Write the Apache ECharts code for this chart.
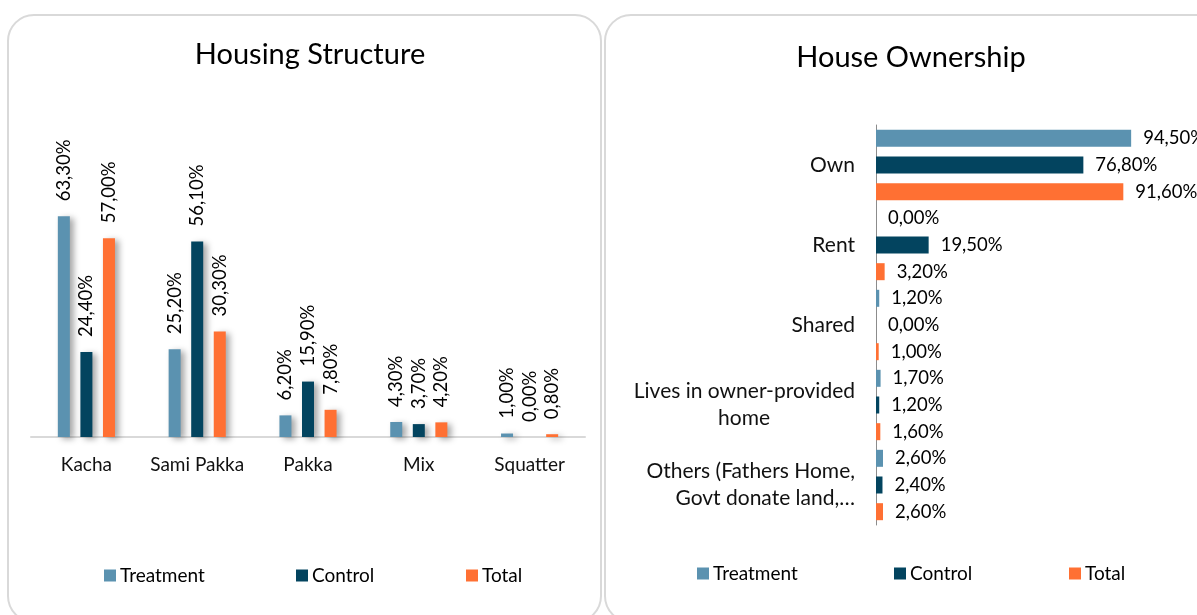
<!DOCTYPE html>
<html>
<head>
<meta charset="utf-8">
<script src="https://cdn.jsdelivr.net/npm/echarts@6/dist/echarts.min.js"></script>
<style>
  html, body { margin: 0; padding: 0; background: #fff; }
  #chart { width: 1197px; height: 615px; }
</style>
</head>
<body>
<div id="chart"></div>
<script>
// Housing Structure (vertical bars)
var structCats = ["Kacha", "Sami Pakka", "Pakka", "Mix", "Squatter"];
var structTreatment = [63.3, 25.2, 6.2, 4.3, 1.0];
var structControl = [24.4, 56.1, 15.9, 3.7, 0.0];
var structTotal = [57.0, 30.3, 7.8, 4.2, 0.8];

// House Ownership (horizontal bars)
var ownCats = ["Own", "Rent", "Shared", "Lives in owner-provided\nhome", "Others (Fathers Home,\nGovt donate land,…"];
var ownTreatment = [94.5, 0.0, 1.2, 1.7, 2.6];
var ownControl = [76.8, 19.5, 0.0, 1.2, 2.4];
var ownTotal = [91.6, 3.2, 1.0, 1.6, 2.6];

var seriesNames = ["Treatment", "Control", "Total"];
var colors = ["#5b92b0", "#03445f", "#ff7033"];
var font = "Lato, 'DejaVu Sans', sans-serif";

var pct = function (p) {
    return p.value.toFixed(2).replace(".", ",") + "%";
};

// width of a text line, to center the short wrapped line under the long one
var measure = function (text, size) {
    var ctx = document.createElement("canvas").getContext("2d");
    ctx.font = size + "px " + font;
    return Math.ceil(ctx.measureText(text).width);
};

// vertical bar series with rotated labels and a soft shadow
var vBar = function (name, data, color) {
    return {
        name: name,
        type: "bar",
        xAxisIndex: 0,
        yAxisIndex: 0,
        barWidth: 12,
        barGap: "88%",
        itemStyle: {
            color: color,
            shadowColor: "rgba(0,0,0,0.35)",
            shadowBlur: 6,
            shadowOffsetX: 4,
            shadowOffsetY: 2
        },
        label: {
            show: true,
            position: "top",
            rotate: 90,
            align: "left",
            verticalAlign: "middle",
            distance: 15,
            fontFamily: font,
            fontSize: 18.5,
            color: "#000",
            formatter: pct
        },
        data: data
    };
};

var hBar = function (name, data, color) {
    return {
        name: name + " ",
        type: "bar",
        xAxisIndex: 1,
        yAxisIndex: 1,
        barWidth: 17,
        barGap: "57%",
        itemStyle: { color: color },
        label: {
            show: true,
            position: "right",
            distance: 12,
            fontFamily: font,
            fontSize: 18.5,
            color: "#000",
            formatter: pct
        },
        data: data
    };
};

var legendAt = function (name, left, top) {
    return {
        data: [name],
        left: left,
        top: top,
        icon: "rect",
        itemWidth: 12,
        itemHeight: 12,
        itemGap: 0,
        textStyle: { fontFamily: font, fontSize: 19, color: "#000", padding: [0, 0, 0, -1] }
    };
};

var ownLabelSize = 21;
var option = {
    animation: false,
    color: colors,
    graphic: [
        {
            type: "rect",
            shape: { x: 8, y: 15, width: 593, height: 607, r: 26 },
            style: { fill: "#fff", stroke: "#d9d9d9", lineWidth: 2 },
            z: -10
        },
        {
            type: "rect",
            shape: { x: 605, y: 15, width: 620, height: 607, r: 26 },
            style: { fill: "#fff", stroke: "#d9d9d9", lineWidth: 2 },
            z: -10
        }
    ],
    title: [
        {
            text: "Housing Structure",
            left: 305,
            top: 35,
            textAlign: "center",
            textStyle: { fontFamily: font, fontSize: 29, fontWeight: "normal", color: "#000" }
        },
        {
            text: "House Ownership",
            left: 906,
            top: 38,
            textAlign: "center",
            textStyle: { fontFamily: font, fontSize: 29, fontWeight: "normal", color: "#000" }
        }
    ],
    legend: [
        legendAt("Treatment", 99, 561),
        legendAt("Control", 291, 561),
        legendAt("Total", 461, 561),
        legendAt("Treatment ", 692, 559),
        legendAt("Control ", 889, 559),
        legendAt("Total ", 1064, 559)
    ],
    grid: [
        { left: 31, top: 193, width: 554, height: 244 },
        { left: 876, top: 125, width: 270, height: 400 }
    ],
    xAxis: [
        {
            gridIndex: 0,
            type: "category",
            data: structCats,
            axisLine: { lineStyle: { color: "#d9d9d9", width: 2 } },
            axisTick: { show: false },
            axisLabel: { interval: 0, margin: 18, fontFamily: font, fontSize: 19, color: "#111" }
        },
        {
            gridIndex: 1,
            type: "value",
            min: 0,
            max: 100,
            show: false
        }
    ],
    yAxis: [
        {
            gridIndex: 0,
            type: "value",
            min: 0,
            max: 70,
            show: false
        },
        {
            gridIndex: 1,
            type: "category",
            inverse: true,
            data: ownCats,
            axisLine: { lineStyle: { color: "#8c8c8c", width: 1 } },
            axisTick: { show: false },
            axisLabel: {
                interval: 0,
                margin: 21,
                fontFamily: font,
                fontSize: ownLabelSize,
                lineHeight: 27,
                color: "#111",
                align: "right",
                formatter: function (value, index) {
                    var lines = value.split("\n");
                    if (index === 3 && lines.length === 2) {
                        return lines[0] + "\n{c|" + lines[1] + "}";
                    }
                    return value;
                },
                rich: {
                    c: {
                        width: measure("Lives in owner-provided", ownLabelSize),
                        align: "center",
                        fontFamily: font,
                        fontSize: ownLabelSize,
                        lineHeight: 27,
                        color: "#111"
                    }
                }
            }
        }
    ],
    series: [
        vBar(seriesNames[0], structTreatment, colors[0]),
        vBar(seriesNames[1], structControl, colors[1]),
        vBar(seriesNames[2], structTotal, colors[2]),
        hBar(seriesNames[0], ownTreatment, colors[0]),
        hBar(seriesNames[1], ownControl, colors[1]),
        hBar(seriesNames[2], ownTotal, colors[2])
    ]
};

var myChart = echarts.init(document.getElementById("chart"));
myChart.setOption(option);
</script>
</body>
</html>
